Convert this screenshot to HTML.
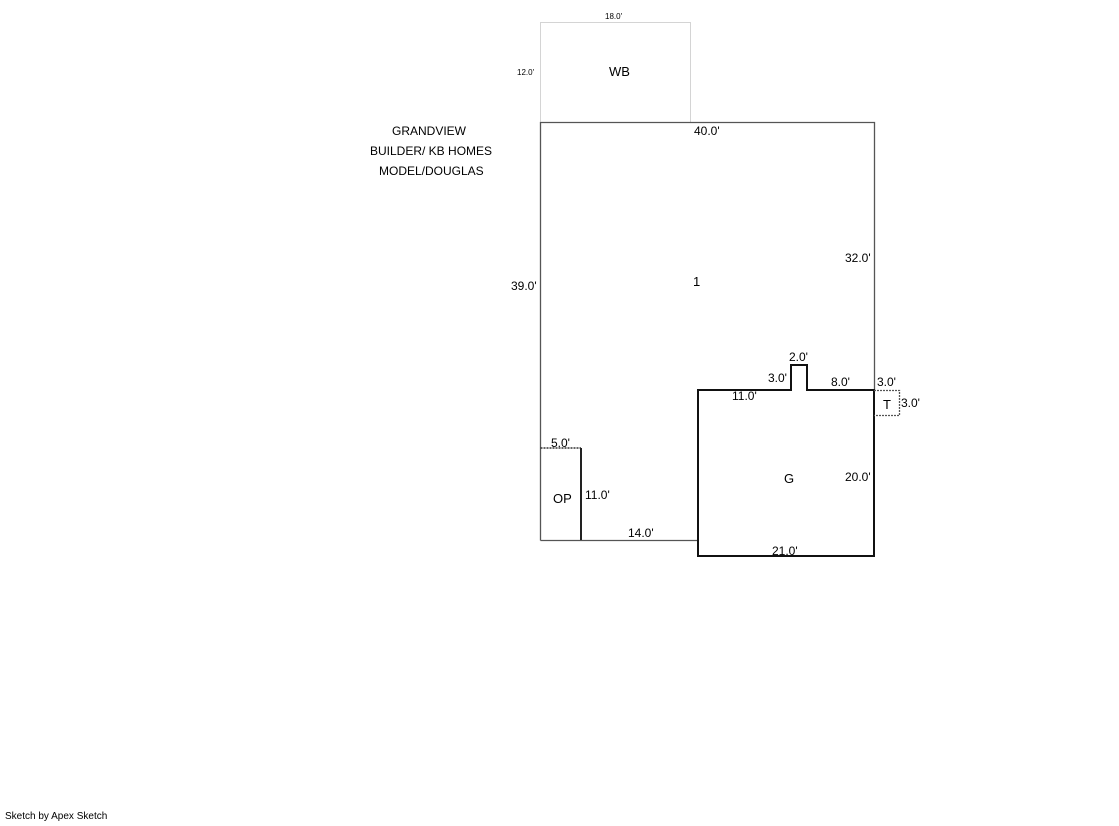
<!DOCTYPE html>
<html><head><style>
body{margin:0;background:#fff;}
svg text{font-family:"Liberation Sans",Arial,sans-serif;font-size:12px;fill:#000;}
</style></head><body>
<svg width="1119" height="821" xmlns="http://www.w3.org/2000/svg">
<rect x="540.5" y="22.5" width="150" height="100" fill="none" stroke="#aaa" stroke-dasharray="1,1"/>
<polyline points="540.5,540.5 540.5,122.5 874.5,122.5 874.5,390" fill="none" stroke="#555" stroke-width="1.3"/>
<line x1="540.5" y1="540.5" x2="698" y2="540.5" stroke="#555" stroke-width="1.3"/>
<polygon points="698,390 791,390 791,365 807,365 807,390 874,390 874,556 698,556" fill="none" stroke="#111" stroke-width="2"/>
<polyline points="540.5,448 581,448" fill="none" stroke="#333" stroke-width="1.5" stroke-dasharray="2,1"/>
<polyline points="581,448 581,540" fill="none" stroke="#222" stroke-width="2"/>
<polyline points="874,390.5 899.5,390.5 899.5,415.5 874,415.5" fill="none" stroke="#555" stroke-width="1.3" stroke-dasharray="2,1"/>
<text x="605" y="19" style="font-size:8px">18.0'</text>
<text x="517" y="75" style="font-size:8px">12.0'</text>
<text x="609" y="76" style="font-size:13px">WB</text>
<text x="694" y="135">40.0'</text>
<text x="392" y="135">GRANDVIEW</text>
<text x="370" y="155">BUILDER/ KB HOMES</text>
<text x="379" y="175">MODEL/DOUGLAS</text>
<text x="845" y="262">32.0'</text>
<text x="511" y="290">39.0'</text>
<text x="693" y="286" style="font-size:13px">1</text>
<text x="789" y="361">2.0'</text>
<text x="768" y="382">3.0'</text>
<text x="831" y="386">8.0'</text>
<text x="877" y="386">3.0'</text>
<text x="732" y="400">11.0'</text>
<text x="883" y="409" style="font-size:13px">T</text>
<text x="901" y="407">3.0'</text>
<text x="551" y="447">5.0'</text>
<text x="784" y="483" style="font-size:13px">G</text>
<text x="845" y="481">20.0'</text>
<text x="553" y="503" style="font-size:13px">OP</text>
<text x="585" y="499">11.0'</text>
<text x="628" y="537">14.0'</text>
<text x="772" y="555">21.0'</text>
<text x="5" y="819" style="font-size:10px">Sketch by Apex Sketch</text>
</svg>
</body></html>
